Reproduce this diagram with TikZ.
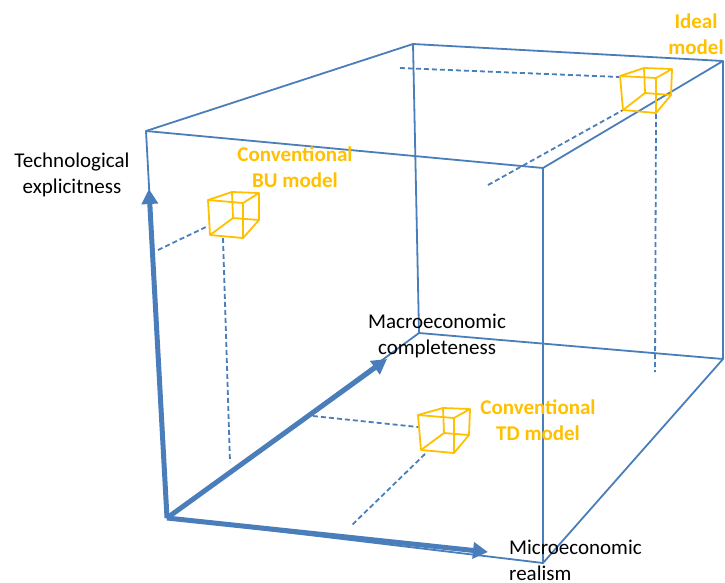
\documentclass[tikz,border=0pt]{standalone}
\usepackage{fontspec}
\setmainfont{Carlito}
\usetikzlibrary{arrows.meta}
\definecolor{axblue}{HTML}{4A7EBB}
\definecolor{modelorange}{HTML}{FFC000}
\newcommand{\mycube}[8]{%
  \draw[cubeline] #1 -- #2 -- #3 -- #4 -- cycle;
  \draw[cubeline] #5 -- #6 -- #7 -- #8 -- cycle;
  \draw[cubeline] #1 -- #5 #2 -- #6 #3 -- #7 #4 -- #8;
}
\tikzset{
  edge/.style={draw=axblue, line width=1.8pt, line join=round},
  axis/.style={draw=axblue, fill=axblue, line width=5pt, -{Triangle[length=15pt,width=16pt]}},
  guide/.style={draw=axblue, line width=1.8pt, dash pattern=on 5pt off 3pt},
  cubeline/.style={draw=modelorange, line width=1.8pt, line join=round},
  axlabel/.style={inner sep=0pt, text=black, font=\fontsize{21}{26}\selectfont},
  modellabel/.style={inner sep=0pt, text=modelorange, font=\fontsize{21}{26}\selectfont\bfseries, align=center},
}
\begin{document}
\begin{tikzpicture}[x=1pt,y=-1pt]
\useasboundingbox (0,0) rectangle (725,582);
% box corners
\coordinate (O) at (167,518);
\coordinate (FBR) at (543,563);
\coordinate (BBR) at (723,359);
\coordinate (BBL) at (419,333);
\coordinate (FTL) at (146,131);
\coordinate (FTR) at (543,168);
\coordinate (BTR) at (723,61);
\coordinate (BTL) at (413,44);
% axis tips
\coordinate (Ttip) at (149,189);
\coordinate (Mtip) at (387,359);
\coordinate (Rtip) at (488,552);
% box edges
\draw[edge] (FTL) -- (FTR) -- (FBR) -- (O) -- cycle;
\draw[edge] (FTL) -- (BTL) -- (BTR) -- (FTR);
\draw[edge] (BTR) -- (BBR) -- (FBR);
\draw[edge] (BTL) -- (BBL) -- (BBR);
\draw[edge] (BBL) -- (O);
% dashed guides
\coordinate (g1a) at (400,68);   \coordinate (g1b) at (620,77);
\coordinate (g2a) at (488,185);  \coordinate (g2b) at (623,110);
\coordinate (g3a) at (656,114);  \coordinate (g3b) at (655,372);
\coordinate (g4a) at (158,250);  \coordinate (g4b) at (208,226);
\coordinate (g5a) at (223,238);  \coordinate (g5b) at (230,462);
\coordinate (g6a) at (313,416);  \coordinate (g6b) at (418,427);
\coordinate (g7a) at (425,454);  \coordinate (g7b) at (352,525);
\draw[guide] (g1a) -- (g1b);
\draw[guide] (g2a) -- (g2b);
\draw[guide] (g3a) -- (g3b);
\draw[guide] (g4a) -- (g4b);
\draw[guide] (g5a) -- (g5b);
\draw[guide] (g6a) -- (g6b);
\draw[guide] (g7a) -- (g7b);
% axes
\draw[axis] (O) -- (Ttip);
\draw[axis] (O) -- (Mtip);
\draw[axis] (O) -- (Rtip);
% cubes
\mycube{(620,76)}{(656,78)}{(656,113)}{(623,110)}{(644,68)}{(672,69)}{(671,95)}{(645,93)}
\mycube{(208,200)}{(243,203)}{(243,238)}{(210,235)}{(232,192)}{(259,193)}{(259,220)}{(233,218)}
\mycube{(418,415)}{(454,418)}{(454,453)}{(421,450)}{(443,408)}{(470,409)}{(469,435)}{(444,433)}
% labels
\node[modellabel] (ideal) at (696,34) {Ideal\\model};
\node[modellabel] (bu) at (295,167) {Conventional\\BU model};
\node[modellabel] (td) at (538,420) {Conventional\\TD model};
\node[axlabel, align=center] (tech) at (72,175) {Technological\\explicitness};
\node[axlabel, align=center] (macro) at (437,336) {Macroeconomic\\completeness};
\node[axlabel, align=left, anchor=north west] (micro) at (509,540) {Microeconomic\\realism};
\end{tikzpicture}
\end{document}
